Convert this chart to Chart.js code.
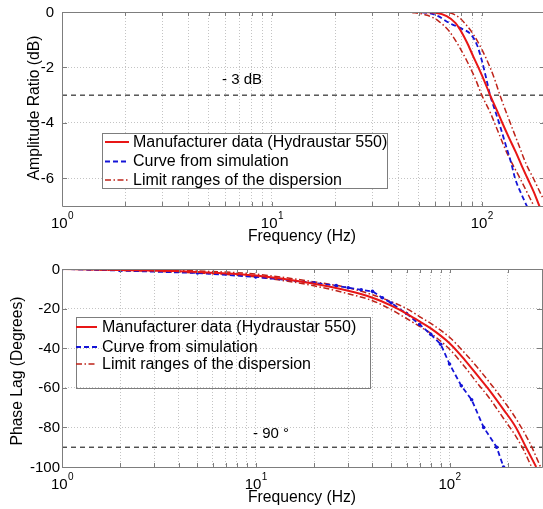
<!DOCTYPE html>
<html>
<head>
<meta charset="utf-8">
<script src="https://cdn.jsdelivr.net/npm/chart.js@4.4.1/dist/chart.umd.min.js"></script>
<style>
html,body{margin:0;padding:0;background:#fff;overflow:hidden;width:543px;height:509px;}
canvas{position:absolute;left:0;}
#amp{top:0;}
#phase{top:250px;}
</style>
</head>
<body>
<canvas id="amp" width="545" height="250"></canvas>
<canvas id="phase" width="546" height="259"></canvas>
<script>
// ---- amplitude ratio (dB) ----
let ampManufFreq = [1, 10, 40, 50, 60, 68, 75, 79, 85, 91, 97, 103, 109.5, 118, 126, 135, 145, 155, 165, 177, 188, 200];
let ampManuf     = [0, 0, 0, 0, -0.03, -0.15, -0.4, -0.65, -1.1, -1.6, -2.05, -2.5, -3.0, -3.55, -4.05, -4.55, -5.05, -5.55, -6.0, -6.5, -7.0, -7.45];

let ampSimFreq = [1, 10, 45, 55, 62, 66, 71, 80, 89, 95, 100, 105, 109.5, 115, 122, 130, 138, 144, 155, 165];
let ampSim     = [0, 0, 0, -0.03, -0.15, -0.28, -0.42, -0.6, -0.82, -1.2, -1.75, -2.4, -3.0, -3.5, -4.1, -4.8, -5.45, -6.0, -6.6, -7.05];

let ampLowFreq = [1, 10, 40, 48, 55, 62, 70, 78, 86, 93, 100, 110, 120, 132, 152, 177];
let ampLow     = [0, 0, 0, -0.03, -0.12, -0.32, -0.7, -1.25, -1.85, -2.4, -3.0, -3.65, -4.35, -5.1, -6.0, -7.0];

let ampHighFreq = [1, 10, 60, 70, 78, 85, 91, 100, 109.5, 116, 122, 135, 150, 163, 176, 195, 205];
let ampHigh     = [0, 0, 0, -0.03, -0.2, -0.5, -0.8, -1.35, -2.0, -2.5, -3.0, -3.9, -4.8, -5.5, -6.0, -6.7, -7.0];

let ampCut = -3;
let ampTicks = [-6, -4, -2, 0];

// ---- phase lag (degrees) ----
let phManufFreq = [1, 2, 5, 10, 20, 30, 40, 50, 60, 70, 80, 100, 120, 140, 160, 190, 220, 248, 280];
let phManuf     = [0, -0.5, -1.5, -3.3, -7.5, -11, -14.5, -18.5, -22.5, -26.5, -30, -37.5, -46, -54, -61, -71, -80, -90, -100];

let phSimFreq = [1, 2, 5, 10, 20, 26, 30, 35, 40, 45, 50, 60, 70, 80, 90, 100, 115, 130, 150, 175, 190];
let phSim     = [0, -0.8, -2, -4, -7, -8.4, -9.5, -10.5, -11.3, -14.5, -17.2, -22.5, -28, -33, -38, -48, -59, -66, -80, -90, -100];

let phHighFreq = [1, 5, 10, 20, 30, 40, 50, 60, 70, 80, 100, 120, 140, 160, 190, 220, 260, 295];
let phHigh     = [0, -1, -2.6, -6.5, -9.5, -13, -16.5, -20, -24, -27.5, -34.5, -42.5, -50, -57, -66.5, -75.5, -88, -100];

let phLowFreq = [1, 5, 10, 20, 30, 40, 50, 60, 70, 80, 100, 120, 140, 160, 190, 220, 240, 265];
let phLow     = [0, -2, -4, -8.5, -12.5, -16, -20.5, -25, -29, -32.5, -40.5, -49.5, -58, -65, -75.5, -84.5, -91, -100];

let phCut = -90;
let phTicks = [-100, -80, -60, -40, -20, 0];

let legendLabels = ["Manufacturer data (Hydraustar 550)", "Curve from simulation", "Limit ranges of the dispersion"];

const RED = "rgb(232,22,22)";
const BLUE = "rgb(20,20,215)";
const DARKRED = "rgb(190,35,25)";
const FONT = "'Liberation Sans', Arial, sans-serif";

function pts(xs, ys){ return xs.map((x,i)=>({x:x, y:ys[i]})); }

function logTicks(max){
  let t=[];
  for(let d=1; d<=100; d*=10){
    for(let m=1; m<=9; m++){ if(m*d<=max) t.push(m*d); }
  }
  return t;
}

const frame = {
  id:'frame',
  afterDraw(chart, args, o){
    const ctx=chart.ctx, a=chart.chartArea, xs=chart.scales.x, ys=chart.scales.y;
    ctx.save();
    // box
    ctx.strokeStyle='#7d7d7d'; ctx.lineWidth=1;
    ctx.beginPath();
    ctx.rect(Math.round(a.left)+0.5, Math.round(a.top)+0.5, Math.round(a.right-a.left), Math.round(a.bottom-a.top));
    ctx.stroke();
    // inward ticks
    ctx.beginPath();
    xs.ticks.forEach(t=>{
      const px=Math.round(xs.getPixelForValue(t.value))+0.5;
      ctx.moveTo(px,a.bottom); ctx.lineTo(px,a.bottom-4);
      ctx.moveTo(px,a.top); ctx.lineTo(px,a.top+4);
    });
    ys.ticks.forEach(t=>{
      const py=Math.round(ys.getPixelForValue(t.value))+0.5;
      ctx.moveTo(a.left,py); ctx.lineTo(a.left+5,py);
      ctx.moveTo(a.right,py); ctx.lineTo(a.right-5,py);
    });
    ctx.stroke();
    // y tick labels
    ctx.fillStyle='#000';
    ctx.font='15px '+FONT; ctx.textAlign='right'; ctx.textBaseline='middle';
    ys.ticks.forEach(t=>{
      ctx.fillText(String(t.value), o.yLabRight, ys.getPixelForValue(t.value)+0.5);
    });
    // decade labels 10^n
    ctx.textBaseline='alphabetic'; ctx.textAlign='left';
    [0,1,2].forEach(e=>{
      const px=xs.getPixelForValue(Math.pow(10,e));
      ctx.font='15px '+FONT; const w1=ctx.measureText('10').width;
      ctx.font='10px '+FONT; const w2=ctx.measureText(String(e)).width;
      const x0=px-(w1+w2)/2;
      ctx.font='15px '+FONT; ctx.fillText('10', x0, o.tickBase);
      ctx.font='10px '+FONT; ctx.fillText(String(e), x0+w1+0.5, o.tickBase-9);
    });
    // axis titles
    ctx.font='15.7px '+FONT; ctx.textAlign='center'; ctx.textBaseline='middle';
    ctx.fillText('Frequency (Hz)', o.xTitleX, o.xTitleY);
    ctx.save();
    ctx.translate(o.yTitleX, o.yTitleY); ctx.rotate(-Math.PI/2);
    ctx.fillText(o.yTitle, 0, 0);
    ctx.restore();
    // cut-off label
    ctx.font='15px '+FONT; ctx.textAlign='left';
    ctx.fillText(o.cutLabel, o.cutX, o.cutY);
    // legend
    const L=o.legend;
    if(L.fill){ ctx.fillStyle='#fff'; ctx.fillRect(L.x,L.y,L.w,L.h); }
    ctx.strokeStyle='#7d7d7d'; ctx.lineWidth=1;
    ctx.strokeRect(L.x+0.5,L.y+0.5,L.w,L.h);
    const ds=chart.data.datasets;
    legendLabels.forEach((lab,i)=>{
      const d=ds[i], y=L.rows[i];
      ctx.save();
      ctx.strokeStyle=d.borderColor; ctx.lineWidth=d.borderWidth;
      ctx.setLineDash(d.borderDash||[]);
      ctx.beginPath(); ctx.moveTo(L.sx0,y+0.5); ctx.lineTo(L.sx1,y+0.5); ctx.stroke();
      ctx.restore();
      ctx.fillStyle='#000'; ctx.font='16px '+FONT; ctx.textAlign='left'; ctx.textBaseline='middle';
      ctx.fillText(lab, L.tx, y+1);
    });
    ctx.restore();
  }
};

function makeChart(id, cfg){
  const xMax=cfg.xMax;
  return new Chart(document.getElementById(id), {
    type:'line',
    data:{ datasets:[
      {data:pts(cfg.manF,cfg.man), borderColor:RED, borderWidth:2, pointRadius:0, cubicInterpolationMode:'monotone'},
      {data:pts(cfg.simF,cfg.sim), borderColor:BLUE, borderWidth:1.8, borderDash:[5,3], pointRadius:cfg.simDots, pointBackgroundColor:BLUE, pointBorderWidth:0, cubicInterpolationMode:cfg.simMode},
      {data:pts(cfg.lowF,cfg.low), borderColor:DARKRED, borderWidth:1.5, borderDash:[6,2.5,1.5,2.5], pointRadius:0, cubicInterpolationMode:'monotone'},
      {data:pts(cfg.highF,cfg.high), borderColor:DARKRED, borderWidth:1.5, borderDash:[6,2.5,1.5,2.5], pointRadius:0, cubicInterpolationMode:'monotone'},
      {data:[{x:1,y:cfg.cut},{x:xMax,y:cfg.cut}], borderColor:'#000', borderWidth:1, borderDash:[5,4], pointRadius:0}
    ]},
    options:{
      responsive:false, animation:false, events:[],
      layout:{padding:{top:cfg.padTop, left:0, right:0, bottom:0}},
      plugins:{ legend:{display:false}, tooltip:{enabled:false}, frame:cfg.frame },
      scales:{
        x:{ type:'logarithmic', min:1, max:xMax,
            afterBuildTicks:s=>{ s.ticks=logTicks(xMax).map(v=>({value:v})); },
            afterFit:s=>{ s.height=cfg.xH; },
            ticks:{display:false},
            grid:{color:'#c4c4c4', lineWidth:1, drawTicks:false},
            border:{display:false, dash:[1,2]} },
        y:{ min:cfg.yMin, max:0,
            afterBuildTicks:s=>{ s.ticks=cfg.yTicks.map(v=>({value:v})); },
            afterFit:s=>{ s.width=62; },
            ticks:{display:false},
            grid:{color:'#c4c4c4', lineWidth:1, drawTicks:false},
            border:{display:false, dash:[1,2]} }
      }
    },
    plugins:[frame]
  });
}

makeChart('amp', {
  xMax:200, yMin:-7, yTicks:ampTicks, padTop:12, xH:44,
  manF:ampManufFreq, man:ampManuf, simF:ampSimFreq, sim:ampSim, simDots:0, simMode:'monotone',
  lowF:ampLowFreq, low:ampLow, highF:ampHighFreq, high:ampHigh, cut:ampCut,
  frame:{ yLabRight:54, tickBase:228, xTitleX:302, xTitleY:237, yTitle:'Amplitude Ratio (dB)', yTitleX:35, yTitleY:108,
    cutLabel:'- 3 dB', cutX:222, cutY:80,
    legend:{fill:true, x:102, y:133, w:285, h:55, rows:[141.5,161,179.5], sx0:105, sx1:129, tx:133} }
});

makeChart('phase', {
  xMax:300, yMin:-100, yTicks:phTicks, padTop:19, xH:42,
  manF:phManufFreq, man:phManuf, simF:phSimFreq, sim:phSim, simDots:1.8, simMode:'default',
  lowF:phLowFreq, low:phLow, highF:phHighFreq, high:phHigh, cut:phCut,
  frame:{ yLabRight:60, tickBase:239, xTitleX:302, xTitleY:248, yTitle:'Phase Lag (Degrees)', yTitleX:18, yTitleY:121,
    cutLabel:'- 90 °', cutX:253, cutY:184,
    legend:{fill:false, x:76, y:67, w:294, h:71, rows:[76.5,96.5,113.5], sx0:76, sx1:97, tx:102} }
});
</script>
</body>
</html>
